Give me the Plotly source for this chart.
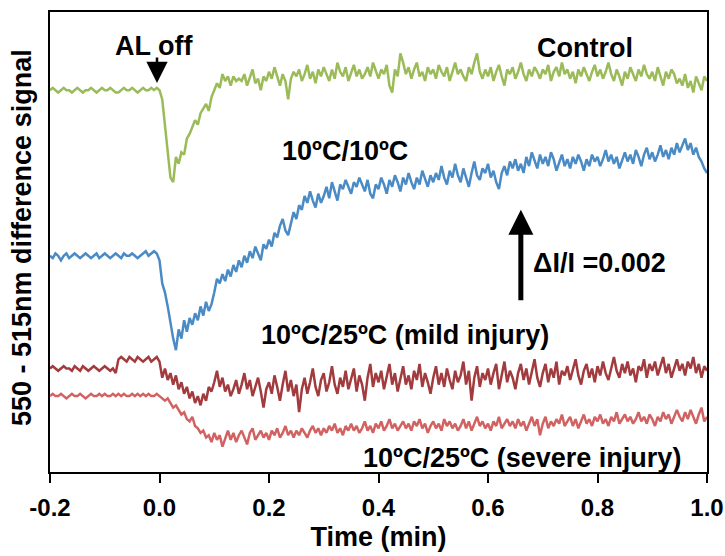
import plotly.graph_objects as go

# Time grid: traces sampled every 0.005 min from -0.2 to 1.0 min
T_START = -0.2
T_STEP = 0.005

# Signal values in units of 0.00005 (delta I / I), vertically offset traces
control = [
    166,167,166,165,166,167,166,166,165,166, 167,166,165,166,166,167,166,165,166,167,
    166,166,167,166,165,165,166,167,166,166, 167,166,165,166,167,166,166,167,166,167,
    166,162,150,140,128,126,137,134,139,138, 145,147,150,153,151,156,158,160,157,163,
    166,169,167,173,170,172,168,172,170,171,
    170,173,168,172,175,169,171,166,172,170, 174,171,176,172,168,173,170,162,171,174,
    172,175,170,173,177,171,174,169,175,172, 176,173,170,175,171,178,174,172,176,170,
    174,177,172,175,171,173,176,172,178,174, 171,175,173,177,168,165,175,172,182,178,
    173,176,171,175,178,172,174,170,176,173, 175,171,177,174,172,176,170,174,178,173,
    175,172,170,176,173,178,182,174,171,175, 172,176,170,174,177,172,168,175,173,176,
    171,174,178,173,170,175,172,176,174,171, 175,173,177,170,174,176,172,178,173,175,
    171,174,169,175,172,176,173,170,174,177, 172,175,171,174,178,173,170,175,172,168,
    174,171,176,173,170,175,172,177,173,171, 174,170,176,172,168,174,171,175,173,169,
    171,168,173,167,170,165,172,169,166,172,170,
]

chill_10_10 = [
    94,93,95,94,92,94,95,93,94,95, 94,93,94,95,94,93,94,95,93,94,
    95,94,93,94,95,94,93,95,94,94, 95,94,93,94,95,96,94,95,96,95,
    92,82,78,72,64,58,53,62,58,66, 61,67,64,69,66,72,68,74,70,73,
    78,84,82,86,83,88,85,90,87,92, 89,94,91,96,93,98,95,92,99,97,
    101,98,104,102,107,110,105,103,108,113, 110,116,114,120,117,122,118,115,121,117,
    120,124,119,126,122,118,125,123,127,124, 121,126,124,128,125,122,127,121,119,125,
    123,128,125,121,127,124,129,126,122,128, 125,130,126,123,128,125,131,127,124,129,
    126,130,127,133,128,125,131,128,134,129, 126,132,128,124,130,135,129,127,132,130,
    134,128,131,126,123,130,133,129,135,132, 136,131,134,130,137,133,139,135,132,138,
    134,137,133,139,136,131,135,138,133,136, 132,137,134,138,135,131,136,133,138,135,
    137,133,136,140,135,138,134,137,132,136, 139,135,138,134,140,137,133,138,141,136,
    139,135,138,142,137,140,136,141,138,143,
    139,142,145,140,143,138,141,137,135,132,130,
]

mild_injury = [
    45,46,45,44,45,46,45,45,44,46, 45,44,46,45,44,45,46,45,44,45,
    46,45,44,45,43,49,50,49,48,50, 49,48,50,49,48,49,50,48,49,50,
    48,41,45,40,43,38,42,36,39,34, 37,32,35,30,33,29,34,31,37,35,
    39,44,37,41,35,38,33,36,40,34, 38,43,36,40,33,37,41,35,28,36,
    39,34,42,37,31,38,44,35,40,33, 38,26,36,41,34,39,45,37,33,40,
    43,35,39,46,38,34,41,37,44,36, 40,45,35,42,38,31,41,47,37,43,
    39,44,36,41,47,38,43,35,40,46, 38,42,36,44,40,47,37,43,39,34,
    41,46,38,43,37,45,40,36,44,39, 42,48,38,44,31,41,46,37,43,40,
    45,38,43,47,36,42,48,39,44,41, 36,43,47,40,45,38,44,49,41,37,
    43,47,39,45,41,48,38,44,42,46, 40,45,49,42,38,44,47,41,45,39,
    46,42,48,43,40,45,50,44,41,47, 43,48,42,45,39,46,44,49,41,47,
    44,48,42,46,50,43,47,41,45,49,
    44,47,42,48,45,50,43,47,41,46,44,
]

severe_injury = [
    33,34,33,33,34,33,32,33,34,33, 33,34,33,32,33,34,33,33,34,33,
    34,33,33,34,33,34,33,34,33,33, 34,33,34,33,34,33,34,33,33,34,
    33,32,31,32,30,28,29,27,25,26, 23,22,24,20,19,17,18,15,16,13,
    17,14,16,11,15,18,14,17,13,16, 18,15,12,17,19,14,16,18,15,17,
    14,18,16,19,15,17,20,16,18,15, 18,16,19,17,15,18,20,17,19,16,
    19,17,20,18,21,17,19,16,20,18, 21,18,20,17,19,22,18,20,17,21,
    19,22,18,20,23,19,21,18,20,22, 19,21,18,22,20,23,19,21,17,20,
    22,19,21,18,23,20,22,19,21,18, 20,23,19,22,18,21,24,20,22,19,
    21,18,22,20,24,19,21,23,20,22, 19,23,20,22,18,21,24,20,23,16,
    21,24,19,22,20,23,21,25,20,22, 24,20,23,19,22,25,21,23,20,24,
    22,25,21,23,20,24,22,26,21,23, 25,22,24,21,23,26,22,24,21,25,
    23,20,24,22,26,23,25,21,24,27,
    24,22,26,23,27,24,21,25,28,22,24,
]

series_names = ["Control", "10ºC/10ºC", "10ºC/25ºC (mild injury)", "10ºC/25ºC (severe injury)"]
series_values = [control, chill_10_10, mild_injury, severe_injury]
series_colors = ["#9bbb59", "#4a8bc6", "#a23b3e", "#d26262"]

x_ticks = [-0.2, 0.0, 0.2, 0.4, 0.6, 0.8, 1.0]
x_ticktext = ["-0.2", "0.0", "0.2", "0.4", "0.6", "0.8", "1.0"]

UNIT = 0.00005          # delta I / I per data unit
SCALE_BAR = 0.002       # delta I / I represented by the scale arrow

FONT = "Liberation Sans, Arial, sans-serif"
FS = 27
TICK_FS = 24

fig = go.Figure()
for name, vals, col in zip(series_names, series_values, series_colors):
    t = [T_START + T_STEP * i for i in range(len(vals))]
    fig.add_trace(go.Scatter(x=t, y=vals, mode="lines", name=name,
                             line=dict(color=col, width=2.5), showlegend=False))

W, H = 725, 556
L, R, TP, B = 50, 18, 12, 84
pw, ph = W - L - R, H - TP - B

def px(xp):
    return (xp - L) / pw

def py(yp):
    return (H - B - yp) / ph

annot_font = dict(family=FONT, size=FS, color="black", weight="bold")
annotations = [
    dict(text="AL off", x=px(154), y=py(46)),
    dict(text="Control", x=px(585), y=py(48)),
    dict(text="10ºC/10ºC", x=px(345), y=py(151)),
    dict(text="ΔI/I =0.002", x=px(599), y=py(263)),
    dict(text="10ºC/25ºC (mild injury)", x=px(405), y=py(335)),
    dict(text="10ºC/25ºC (severe injury)", x=px(522), y=py(458)),
]
for a in annotations:
    fig.add_annotation(xref="paper", yref="paper", showarrow=False,
                       xanchor="center", yanchor="middle", font=annot_font, **a)

# AL off arrow
fig.add_annotation(xref="paper", yref="paper", x=px(157), y=py(83), text="",
                   showarrow=True, ax=0, ay=-27, arrowhead=2, arrowsize=1.7,
                   arrowwidth=2.5, arrowcolor="black")

# scale arrow (delta I / I = 0.002)
bar_x = 0.66
bar_base = 74
fig.add_annotation(x=bar_x, y=bar_base + SCALE_BAR / UNIT, ax=bar_x, ay=bar_base,
                   xref="x", yref="y", axref="x", ayref="y", text="",
                   showarrow=True, arrowhead=2, arrowsize=1.0, arrowwidth=5,
                   arrowcolor="black")

# y-axis title
fig.add_annotation(xref="paper", yref="paper", x=px(22), y=py(238), text="550 - 515nm difference signal",
                   textangle=-90, showarrow=False, xanchor="center", yanchor="middle",
                   font=dict(family=FONT, size=FS, color="black", weight="bold"))

fig.update_layout(
    width=W, height=H,
    margin=dict(l=L, r=R, t=TP, b=B),
    plot_bgcolor="white", paper_bgcolor="white",
    xaxis=dict(range=[-0.2, 1.0], tickvals=x_ticks, ticktext=x_ticktext,
               ticks="outside", ticklen=9, tickwidth=1.5, tickcolor="black",
               ticklabeloverflow="allow", ticklabelstandoff=4, automargin=False,
               showline=True, linecolor="black", linewidth=1.5, mirror=True,
               showgrid=False, zeroline=False,
               tickfont=dict(family=FONT, size=TICK_FS, color="black", weight="bold"),
               title=dict(text="Time (min)", standoff=8,
                          font=dict(family=FONT, size=FS, color="black", weight="bold"))),
    yaxis=dict(range=[0, 200], showticklabels=False, ticks="", automargin=False,
               showline=True, linecolor="black", linewidth=1.5, mirror=True,
               showgrid=False, zeroline=False),
)

fig.write_html("out.html")
